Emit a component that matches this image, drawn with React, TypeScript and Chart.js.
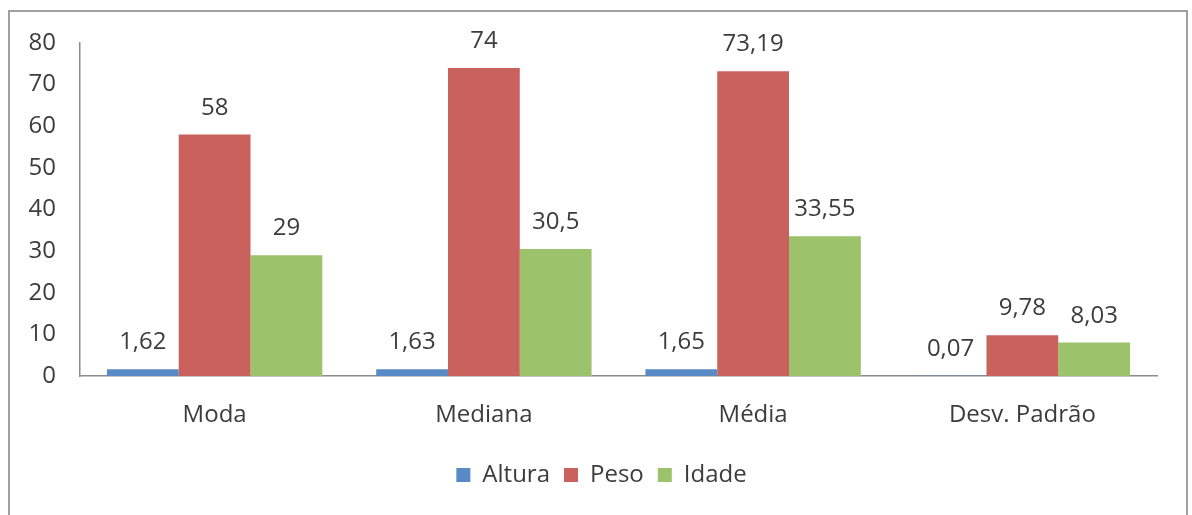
import React, { useEffect, useRef } from "react";
import { Chart, registerables } from "chart.js";

Chart.register(...registerables);

const categories = ["Moda", "Mediana", "Média", "Desv. Padrão"];
const altura = [1.62, 1.63, 1.65, 0.07];
const peso = [58, 74, 73.19, 9.78];
const idade = [29, 30.5, 33.55, 8.03];
const seriesNames = ["Altura", "Peso", "Idade"];
const seriesColors = ["#5A8AC6", "#C9625D", "#9DC26C"];
const yMin = 0;
const yMax = 80;
const yStep = 10;

const FONT = "'Open Sans', 'DejaVu Sans', sans-serif";
const TEXT = "#3c3c3c";

const valueLabels = {
  id: "valueLabels",
  afterDatasetsDraw(chart: any) {
    const ctx = chart.ctx;
    ctx.save();
    ctx.font = `24px ${FONT}`;
    ctx.fillStyle = TEXT;
    ctx.textAlign = "center";
    ctx.textBaseline = "alphabetic";
    chart.data.datasets.forEach((ds: any, i: number) => {
      const meta = chart.getDatasetMeta(i);
      meta.data.forEach((el: any, j: number) => {
        const v = ds.data[j];
        const txt = String(v).replace(".", ",");
        ctx.fillText(txt, el.x, el.y - 20);
      });
    });
    ctx.restore();
  },
};

const legendShift = {
  id: "legendShift",
  afterLayout(chart: any) {
    if (chart.legend) {
      chart.legend.right += 46;
    }
  },
};

export default function App() {
  const ref = useRef<HTMLCanvasElement | null>(null);

  useEffect(() => {
    if (!ref.current) return;
    const chart = new Chart(ref.current, {
      type: "bar",
      data: {
        labels: categories,
        datasets: [altura, peso, idade].map((d, i) => ({
          label: seriesNames[i],
          data: d,
          backgroundColor: seriesColors[i],
          borderWidth: 0,
          categoryPercentage: 0.8,
          barPercentage: 1.0,
        })),
      },
      options: {
        animation: false,
        responsive: false,
        devicePixelRatio: 1,
        layout: { padding: { left: 0, right: 35, top: 43, bottom: 18 } },
        plugins: {
          tooltip: { enabled: false },
          legend: {
            position: "bottom",
            labels: {
              boxWidth: 14,
              boxHeight: 14,
              padding: 14,
              color: TEXT,
              font: { family: FONT, size: 24 },
            },
          },
        },
        scales: {
          x: {
            grid: { display: false, drawTicks: false },
            border: { display: true, color: "#8c8c8c", width: 1.5 },
            ticks: { color: TEXT, padding: 25, font: { family: FONT, size: 24 } },
            afterFit: (s: any) => {
              s.height = 73;
            },
          },
          y: {
            min: yMin,
            max: yMax,
            grid: { display: false, drawTicks: false },
            border: { display: true, color: "#8c8c8c", width: 1.5 },
            ticks: { stepSize: yStep, color: TEXT, padding: 24, font: { family: FONT, size: 24 } },
            afterFit: (s: any) => {
              s.width = 80;
            },
          },
        },
      },
      plugins: [valueLabels, legendShift],
    });
    return () => chart.destroy();
  }, []);

  return (
    <div style={{ position: "fixed", left: 0, top: 0, width: 1192, height: 515, background: "#fff", overflow: "hidden" }}>
      <div
        style={{
          position: "absolute",
          left: 8,
          top: 10,
          width: 1180,
          height: 600,
          boxSizing: "border-box",
          border: "2px solid #a0a0a0",
        }}
      />
      <canvas ref={ref} width={1192} height={515} style={{ position: "absolute", left: 0, top: 0 }} />
    </div>
  );
}
